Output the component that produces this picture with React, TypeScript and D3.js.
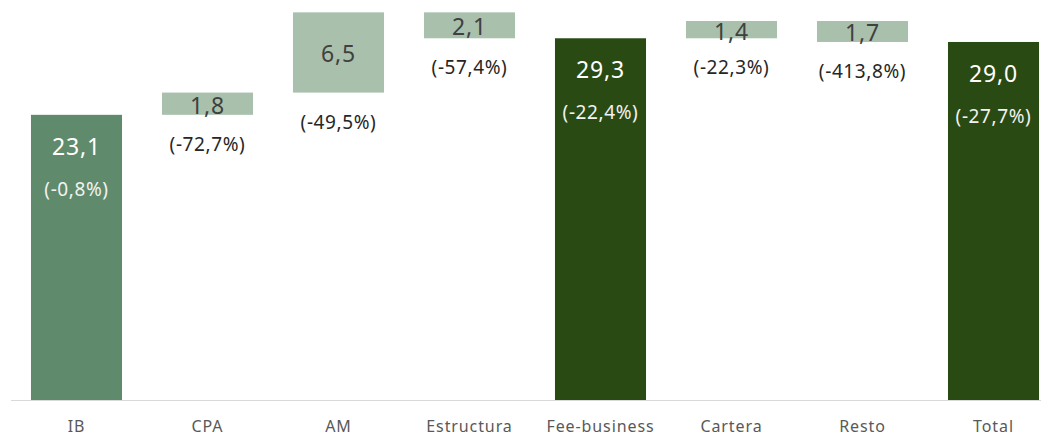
import React from 'react';
import * as d3 from 'd3';

const categories = ['IB', 'CPA', 'AM', 'Estructura', 'Fee-business', 'Cartera', 'Resto', 'Total'];
const values = [23.1, 1.8, 6.5, -2.1, 29.3, 1.4, -1.7, 29.0];
const kinds = ['start', 'delta', 'delta', 'delta', 'total', 'delta', 'delta', 'total'];
const changes = ['(-0,8%)', '(-72,7%)', '(-49,5%)', '(-57,4%)', '(-22,4%)', '(-22,3%)', '(-413,8%)', '(-27,7%)'];

const WIDTH = 1041;
const HEIGHT = 436;
const BASE_Y = 400;
const FONT = '"Noto Sans", "Open Sans", sans-serif';

const COLORS: Record<string, string> = {
  start: '#5f8b6c',
  delta: '#a9c0ad',
  total: '#2a4a13',
};

const fmt = (v: number) => Math.abs(v).toFixed(1).replace('.', ',');

const App: React.FC = () => {
  const x = d3.scaleBand<string>()
    .domain(categories)
    .range([11, 11 + 8 * 131])
    .paddingInner(0.305)
    .paddingOuter(0.1525);

  const y = d3.scaleLinear().domain([0, 32.4]).range([BASE_Y, 0]);

  // running sums for the waterfall
  let running = 0;
  const bars = categories.map((c, i) => {
    const v = values[i];
    let lo: number, hi: number;
    if (kinds[i] === 'delta') {
      const next = running + v;
      lo = Math.min(running, next);
      hi = Math.max(running, next);
      running = next;
    } else {
      lo = 0;
      hi = v;
      running = v;
    }
    return { c, v, kind: kinds[i], lo, hi, change: changes[i] };
  });

  return (
    <svg width={WIDTH} height={HEIGHT} style={{ position: 'absolute', left: 0, top: 0, display: 'block' }}>
      <rect width={WIDTH} height={HEIGHT} fill="#ffffff" />
      {bars.map((b) => {
        const bx = x(b.c)!;
        const bw = x.bandwidth();
        const top = y(b.hi);
        const bottom = y(b.lo);
        const cx = bx + bw / 2;
        const inside = b.kind !== 'delta';
        return (
          <g key={b.c}>
            <rect x={bx} y={top} width={bw} height={bottom - top} fill={COLORS[b.kind]} />
            {inside ? (
              <>
                <text x={cx} y={top + 31} textAnchor="middle" dominantBaseline="central"
                  fill="#ffffff" fontFamily={FONT} fontSize={23} letterSpacing={0.8}>{fmt(b.v)}</text>
                <text x={cx} y={top + 74} textAnchor="middle" dominantBaseline="central"
                  fill="#f2f2f2" fontFamily={FONT} fontSize={19} letterSpacing={0.6}>{b.change}</text>
              </>
            ) : (
              <>
                <text x={cx} y={(top + bottom) / 2 + 1} textAnchor="middle" dominantBaseline="central"
                  fill="#404040" fontFamily={FONT} fontSize={23} letterSpacing={0.8}>{fmt(b.v)}</text>
                <text x={cx} y={bottom + 29} textAnchor="middle" dominantBaseline="central"
                  fill="#262626" fontFamily={FONT} fontSize={19} letterSpacing={0.6}>{b.change}</text>
              </>
            )}
          </g>
        );
      })}
      <line x1={11} x2={WIDTH} y1={BASE_Y + 0.5} y2={BASE_Y + 0.5} stroke="#d9d9d9" strokeWidth={1} />
      {categories.map((c) => (
        <text key={c} x={x(c)! + x.bandwidth() / 2} y={426} textAnchor="middle" dominantBaseline="central"
          fill="#595959" fontFamily={FONT} fontSize={16} letterSpacing={0.9}>{c}</text>
      ))}
    </svg>
  );
};

export default App;
